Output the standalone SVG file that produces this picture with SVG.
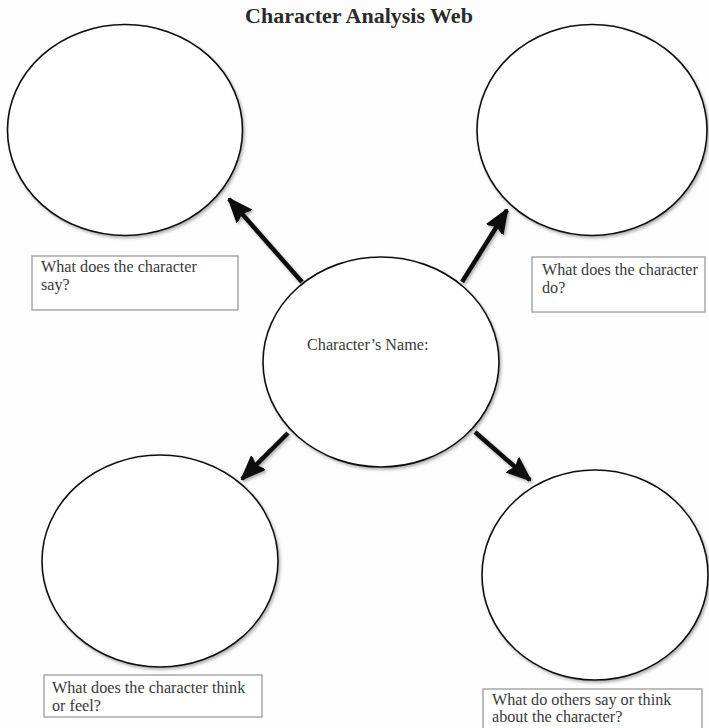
<svg xmlns="http://www.w3.org/2000/svg" width="709" height="728" viewBox="0 0 709 728">
<defs>
<marker id="ah" markerUnits="userSpaceOnUse" markerWidth="24" markerHeight="22" viewBox="0 0 24 22" refX="23" refY="11" orient="auto">
<path d="M0,1.5 L24,11 L0,20.5 L4,11 Z" fill="#111" stroke="#111" stroke-width="1.5" stroke-linejoin="round"/>
</marker>
<filter id="sh" x="-10%" y="-10%" width="120%" height="120%">
<feDropShadow dx="1.5" dy="2" stdDeviation="1.5" flood-color="#000" flood-opacity="0.3"/>
</filter>
</defs>
<style>
.bg{fill:#fdfdfd}
.node ellipse{fill:#fff;stroke:#111;stroke-width:1.6}
.box{fill:#fff;stroke:#9a9a9a;stroke-width:1.3}
.lbl{font-family:"Liberation Serif","Times New Roman",serif;font-size:16.2px;fill:#3a3a3a}
.title{font-family:"Liberation Serif","Times New Roman",serif;font-size:22px;font-weight:bold;fill:#2a2a2a}
.conn line{stroke:#111;stroke-width:4.5;marker-end:url(#ah)}
</style>
<rect class="bg" x="0" y="0" width="709" height="728"/>
<text class="title" x="359" y="23" text-anchor="middle">Character Analysis Web</text>
<g id="node-say" class="node">
<ellipse cx="125" cy="130" rx="117.5" ry="105.5" filter="url(#sh)"/>
</g>
<g id="node-do" class="node">
<ellipse cx="592" cy="130" rx="115" ry="105.5" filter="url(#sh)"/>
</g>
<g id="node-center" class="node">
<ellipse cx="381" cy="362" rx="118" ry="105" filter="url(#sh)"/>
<text class="lbl" x="307" y="350">Character’s Name:</text>
</g>
<g id="node-think" class="node">
<ellipse cx="160" cy="561" rx="118" ry="106" filter="url(#sh)"/>
</g>
<g id="node-others" class="node">
<ellipse cx="595" cy="575" rx="113" ry="105" filter="url(#sh)"/>
</g>
<g id="label-say">
<rect class="box" x="32" y="256" width="206" height="54"/>
<text class="lbl" x="41" y="272">What does the character</text>
<text class="lbl" x="41" y="290">say?</text>
</g>
<g id="label-do">
<rect class="box" x="532" y="257" width="173" height="55"/>
<text class="lbl" x="542" y="275">What does the character</text>
<text class="lbl" x="542" y="293">do?</text>
</g>
<g id="label-think">
<rect class="box" x="44" y="675" width="218" height="42"/>
<text class="lbl" x="52" y="693">What does the character think</text>
<text class="lbl" x="52" y="711">or feel?</text>
</g>
<g id="label-others">
<rect class="box" x="483" y="689" width="219" height="45"/>
<text class="lbl" x="492" y="705">What do others say or think</text>
<text class="lbl" x="492" y="722">about the character?</text>
</g>
<g id="connectors" class="conn" filter="url(#sh)">
<line x1="302" y1="282" x2="229" y2="199"/>
<line x1="462" y1="282" x2="507" y2="210"/>
<line x1="288" y1="433" x2="242" y2="479"/>
<line x1="475" y1="432" x2="530" y2="480"/>
</g>
</svg>
